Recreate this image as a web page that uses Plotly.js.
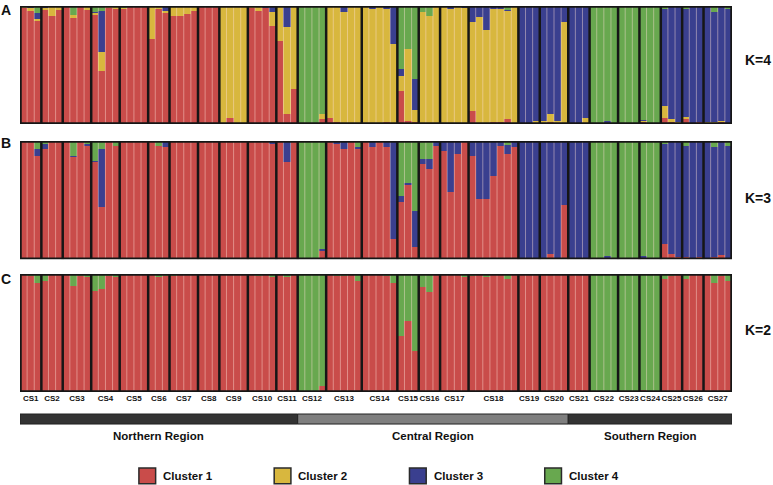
<!DOCTYPE html>
<html>
<head>
<meta charset="utf-8">
<script src="https://cdn.plot.ly/plotly-3.0.1.min.js"></script>
<style>
  html, body { margin: 0; padding: 0; background: #fff; }
  #chart { width: 773px; height: 485px; }
</style>
</head>
<body>
<div id="chart"></div>
<script>
// ===== Populations =====
const popNames = ['CS1','CS2','CS3','CS4','CS5','CS6','CS7','CS8','CS9','CS10','CS11','CS12','CS13','CS14',
    'CS15','CS16','CS17','CS18','CS19','CS20','CS21','CS22','CS23','CS24','CS25','CS26','CS27'];
const popSizes = [3,3,4,4,4,3,4,3,4,4,3,4,5,5,3,3,4,7,3,4,3,4,3,3,3,3,4];

const regionNames = ['Northern Region', 'Central Region', 'Southern Region'];
const regionPopCounts = [11, 9, 7];
const regionColors = ['#333333', '#7f7f7f', '#333333'];

const clusterNames = ['Cluster 1', 'Cluster 2', 'Cluster 3', 'Cluster 4'];
const clusterColors = ['#c94c4a', '#d8b73e', '#3a3f8f', '#68a84f'];

const panelLetters = ['A', 'B', 'C'];
const kLabels = ['K=4', 'K=3', 'K=2'];

// ===== Membership coefficients, one value per individual (grouped by population) =====
// K=4
const k4Red = [
    0.98,0.96,0.876, 0.97,0.918,0.97, 0.99,0.90,0.99,0.97, 0.924,0.452,0.983,0.975,
    0.975,0.99,1,1, 0.717,0.972,0.944, 0.918,0.918,0.932,0.958, 0.99,1,1, 0,0.056,0,0,
    0.985,0.96,0.985,0.833, 0.706,0.085,0.294, 0,0,0,0.04, 0.056,0.014,0,0,0,
    0.01,0,0.01,0.015,0, 0.282,0.028,0.014, 0,0,0, 0,0,0,0.01,
    0.113,0.01,0,0.015,0.015,0.04,0, 0.01,0,0, 0,0.014,0.005,0, 0,0,0,
    0,0,0.005,0, 0,0,0, 0.014,0.005,0, 0.056,0.02,0.01, 0.04,0.005,0.014, 0,0,0.02,0
];
const k4Yellow = [
    0.01,0.02,0.014, 0.01,0.07,0.03, 0.01,0.023,0.01,0.02, 0.02,0.161,0.017,0.025,
    0.01,0.01,0,0, 0.283,0.017,0.014, 0.082,0.082,0.068,0.042, 0.01,0,0, 1,0.944,1,1,
    0.005,0.03,0,0.119, 0.294,0.734,0.706, 0,0,0,0.045, 0.934,0.976,0.946,0.99,1,
    0.98,0.975,0.99,0.96,0.678, 0.127,0.607,0.105, 0.946,0.918,1, 1,0.975,1,0.97,
    0.749,0.9,0.795,0.96,0.96,0.92,1, 0,0,0.028, 0.028,0.07,0.02,0.862, 0,0.01,0.056,
    0,0,0,0, 0,0,0, 0.014,0,0, 0.099,0.022,0.01, 0.017,0,0.005, 0.014,0.016,0.008,0
];
const k4Blue = [
    0,0.01,0.054, 0.02,0.012,0, 0,0,0,0.01, 0.008,0.345,0,0,
    0,0,0,0, 0,0,0.042, 0,0,0,0, 0,0,0, 0,0,0,0,
    0.01,0.01,0.015,0.037, 0,0.181,0, 0,0,0,0, 0.01,0.01,0.054,0.01,0,
    0.01,0.025,0,0.025,0.322, 0.054,0,0.26, 0,0,0, 0,0.025,0,0.02,
    0.138,0.09,0.205,0.025,0.025,0.01,0, 0.99,1,0.972, 0.972,0.916,0.975,0.138, 1,0.99,0.944,
    0,0,0.02,0, 0,0,0, 0.011,0,0, 0.816,0.946,0.975, 0.918,0.995,0.981, 0.986,0.93,0.972,0.972
];
const k4Green = [
    0.01,0.01,0.056, 0,0,0, 0,0.077,0,0, 0.048,0.042,0,0,
    0.015,0,0,0, 0,0.011,0, 0,0,0,0, 0,0,0, 0,0,0,0,
    0,0,0,0.011, 0,0,0, 1,1,1,0.915, 0,0,0,0,0,
    0,0,0,0,0, 0.537,0.365,0.621, 0.054,0.082,0, 0,0,0,0,
    0,0,0,0,0,0.03,0, 0,0,0, 0,0,0,0, 0,0,0,
    1,1,0.975,1, 1,1,1, 0.961,0.995,1, 0.028,0.011,0.005, 0.025,0,0, 0,0.054,0,0.028
];

// K=3
const k3Red = [
    1,0.99,0.876, 0.932,0.99,1, 1,0.862,1,0.961, 0.825,0.445,0.99,0.96,
    0.99,1,1,1, 1,0.96,0.946, 1,1,1,1, 1,0.99,1, 1,1,1,1,
    0.99,1,1,0.975, 1,0.82,1, 0,0,0,0.073, 0.99,0.975,0.932,1,0.932,
    0.99,0.946,1,0.946,0.169, 0.482,0.628,0.101, 0.806,0.76,0.96, 0.918,0.566,0.89,0.99,
    0.876,0.51,0.51,0.707,0.96,0.89,0.95, 0,0,0, 0,0.045,0,0.456, 0,0,0.01,
    0,0,0.008,0, 0,0,0, 0.014,0,0, 0.13,0.045,0.017, 0.017,0.008,0.017, 0.01,0.016,0.037,0
];
const k3Blue = [
    0,0.01,0.054, 0.043,0.01,0, 0,0.011,0,0.014, 0.008,0.485,0.01,0,
    0.01,0,0,0, 0,0,0.054, 0,0,0,0, 0,0.01,0, 0,0,0,0,
    0.01,0,0,0.025, 0,0.18,0, 0,0,0.014,0.014, 0.01,0.025,0.068,0,0.014,
    0.01,0.054,0,0.054,0.831, 0.056,0.02,0.31, 0.039,0.085,0.04, 0.082,0.434,0.11,0.01,
    0.124,0.49,0.49,0.293,0.04,0.075,0.05, 1,1,1, 1,0.955,1,0.544, 1,1,0.99,
    0,0,0.023,0.015, 0,0,0, 0.017,0,0, 0.842,0.945,0.983, 0.944,0.992,0.983, 0.99,0.93,0.963,0.96
];
const k3Green = [
    0,0,0.07, 0.025,0,0, 0,0.127,0,0.025, 0.167,0.07,0,0.04,
    0,0,0,0, 0,0.04,0, 0,0,0,0, 0,0,0, 0,0,0,0,
    0,0,0,0, 0,0,0, 1,1,0.986,0.913, 0,0,0,0,0.054,
    0,0,0,0,0, 0.462,0.352,0.589, 0.155,0.155,0, 0,0,0,0,
    0,0,0,0,0,0.035,0, 0,0,0, 0,0,0,0, 0,0,0,
    1,1,0.969,0.985, 1,1,1, 0.969,1,1, 0.028,0.01,0, 0.039,0,0, 0,0.054,0,0.04
];

// K=2
const k2Red = [
    0.99,0.986,0.927, 0.944,1,1, 1,0.9,0.986,0.972, 0.859,0.87,0.986,0.972,
    1,1,1,1, 0.995,0.972,0.986, 0.986,1,1,1, 1,0.99,1, 1,1,1,1,
    0.99,0.986,0.995,0.972, 1,0.972,0.995, 0,0,0,0.05, 0.995,0.986,0.986,0.99,0.944,
    1,1,0.995,0.986,0.927, 0.477,0.605,0.35, 0.887,0.845,1, 1,1,1,0.972,
    0.986,0.99,0.972,0.995,0.99,0.955,0.995, 1,1,1, 1,1,1,1, 1,1,1,
    0,0,0,0, 0,0,0, 0.02,0,0, 0.958,0.983,0.99, 0.958,0.995,0.995, 0.995,0.927,0.983,0.944
];
const k2Green = [
    0.01,0.014,0.073, 0.056,0,0, 0,0.1,0.014,0.028, 0.141,0.13,0.014,0.028,
    0,0,0,0, 0.005,0.028,0.014, 0.014,0,0,0, 0,0.01,0, 0,0,0,0,
    0.01,0.014,0.005,0.028, 0,0.028,0.005, 1,1,1,0.95, 0.005,0.014,0.014,0.01,0.056,
    0,0,0.005,0.014,0.073, 0.523,0.395,0.65, 0.113,0.155,0, 0,0,0,0.028,
    0.014,0.01,0.028,0.005,0.01,0.045,0.005, 0,0,0, 0,0,0,0, 0,0,0,
    1,1,1,1, 1,1,1, 0.98,1,1, 0.042,0.017,0.01, 0.042,0.005,0.005, 0.005,0.073,0.017,0.056
];

// ===== Build chart =====
function buildChart() {
    const nInd = popSizes.reduce((a, b) => a + b, 0);
    const idx = Array.from({ length: nInd }, (_, i) => i);

    // population starts / centres
    const starts = [];
    let acc = 0;
    popSizes.forEach(s => { starts.push(acc); acc += s; });
    const centres = starts.map((s, p) => s + (popSizes[p] - 1) / 2);

    const panels = [
        { axis: 'y',  ref: 'y',  series: [k4Red, k4Yellow, k4Blue, k4Green], clusters: [0, 1, 2, 3] },
        { axis: 'y2', ref: 'y2', series: [k3Red, k3Blue, k3Green],           clusters: [0, 2, 3] },
        { axis: 'y3', ref: 'y3', series: [k2Red, k2Green],                   clusters: [0, 3] }
    ];

    const traces = [];
    const shapes = [];
    const annotations = [];

    panels.forEach((panel, pi) => {
        panel.series.forEach((vals, si) => {
            const c = panel.clusters[si];
            traces.push({
                type: 'bar',
                x: idx,
                y: vals,
                xaxis: 'x',
                yaxis: panel.axis,
                width: 1,
                name: clusterNames[c],
                marker: { color: clusterColors[c], line: { width: 0 } },
                showlegend: false,
                hoverinfo: 'skip'
            });
        });

        // thin separators between individuals
        idx.slice(1).forEach(i => {
            if (starts.indexOf(i) !== -1) return;
            shapes.push({
                type: 'line', xref: 'x', yref: panel.ref,
                x0: i - 0.5, x1: i - 0.5, y0: 0, y1: 1,
                line: { color: 'rgba(255,225,215,0.45)', width: 1 }
            });
        });
        // population dividers
        starts.slice(1).forEach(s => {
            shapes.push({
                type: 'line', xref: 'x', yref: panel.ref,
                x0: s - 0.5, x1: s - 0.5, y0: 0, y1: 1,
                line: { color: '#161616', width: 2.5 }
            });
        });
        // panel frame
        shapes.push({
            type: 'rect', xref: 'x', yref: panel.ref,
            x0: -0.5, x1: nInd - 0.5, y0: 0, y1: 1,
            line: { color: '#161616', width: 3.5 }
        });

        const yDomMid = { y: 0.86, y2: 0.503, y3: 0.161 }[panel.axis];
        const yDomTop = { y: 0.99, y2: 0.645, y3: 0.293 }[panel.axis];
        annotations.push({
            xref: 'paper', yref: 'paper', x: -0.0197, y: yDomTop,
            text: panelLetters[pi], showarrow: false, xanchor: 'center', yanchor: 'middle',
            font: { family: 'Liberation Sans, Arial, sans-serif', size: 14, weight: 'bold', color: '#111' }
        });
        annotations.push({
            xref: 'paper', yref: 'paper', x: 1.0365, y: yDomMid,
            text: kLabels[pi], showarrow: false, xanchor: 'center', yanchor: 'middle',
            font: { family: 'Liberation Sans, Arial, sans-serif', size: 14, weight: 'bold', color: '#111' }
        });
    });

    // region bar + labels
    let popIdx = 0;
    regionNames.forEach((name, r) => {
        const first = starts[popIdx];
        const lastPop = popIdx + regionPopCounts[r] - 1;
        const last = starts[lastPop] + popSizes[lastPop];
        shapes.push({
            type: 'rect', xref: 'x', yref: 'paper',
            x0: first - 0.5, x1: last - 0.5, y0: -0.083, y1: -0.057,
            fillcolor: regionColors[r], line: { color: '#222', width: 1 }
        });
        annotations.push({
            xref: 'x', yref: 'paper', x: (first + last - 1) / 2, y: -0.114,
            text: name, showarrow: false, xanchor: 'center', yanchor: 'middle',
            font: { family: 'Liberation Sans, Arial, sans-serif', size: 11.5, weight: 'bold', color: '#111' }
        });
        popIdx += regionPopCounts[r];
    });

    // legend
    clusterNames.forEach((name, c) => {
        const x0 = 0.167 + c * 0.19;
        shapes.push({
            type: 'rect', xref: 'paper', yref: 'paper',
            x0: x0, x1: x0 + 0.0235, y0: -0.238, y1: -0.197,
            fillcolor: clusterColors[c], line: { color: '#2a2a2a', width: 1.5 }
        });
        annotations.push({
            xref: 'paper', yref: 'paper', x: x0 + 0.031, y: -0.2175,
            text: name, showarrow: false, xanchor: 'left', yanchor: 'middle',
            font: { family: 'Liberation Sans, Arial, sans-serif', size: 11.5, weight: 'bold', color: '#111' }
        });
    });

    const yBase = { range: [0, 1], visible: false, fixedrange: true };

    const layout = {
        width: 773,
        height: 485,
        margin: { l: 20, r: 41, t: 6, b: 93 },
        barmode: 'stack',
        bargap: 0,
        plot_bgcolor: 'white',
        paper_bgcolor: 'white',
        showlegend: false,
        xaxis: {
            anchor: 'y3',
            range: [-0.5, nInd - 0.5],
            tickvals: centres,
            ticktext: popNames,
            ticks: '',
            showgrid: false,
            zeroline: false,
            showline: false,
            fixedrange: true,
            tickangle: 0,
            tickfont: { family: 'Liberation Sans, Arial, sans-serif', size: 8, weight: 'bold', color: '#111' }
        },
        yaxis:  Object.assign({ domain: [0.694, 1] }, yBase),
        yaxis2: Object.assign({ domain: [0.3438, 0.650] }, yBase),
        yaxis3: Object.assign({ domain: [0, 0.3057] }, yBase),
        shapes: shapes,
        annotations: annotations
    };

    Plotly.newPlot('chart', traces, layout, { displayModeBar: false, staticPlot: true });
}

document.addEventListener('DOMContentLoaded', buildChart);
</script>
</body>
</html>
